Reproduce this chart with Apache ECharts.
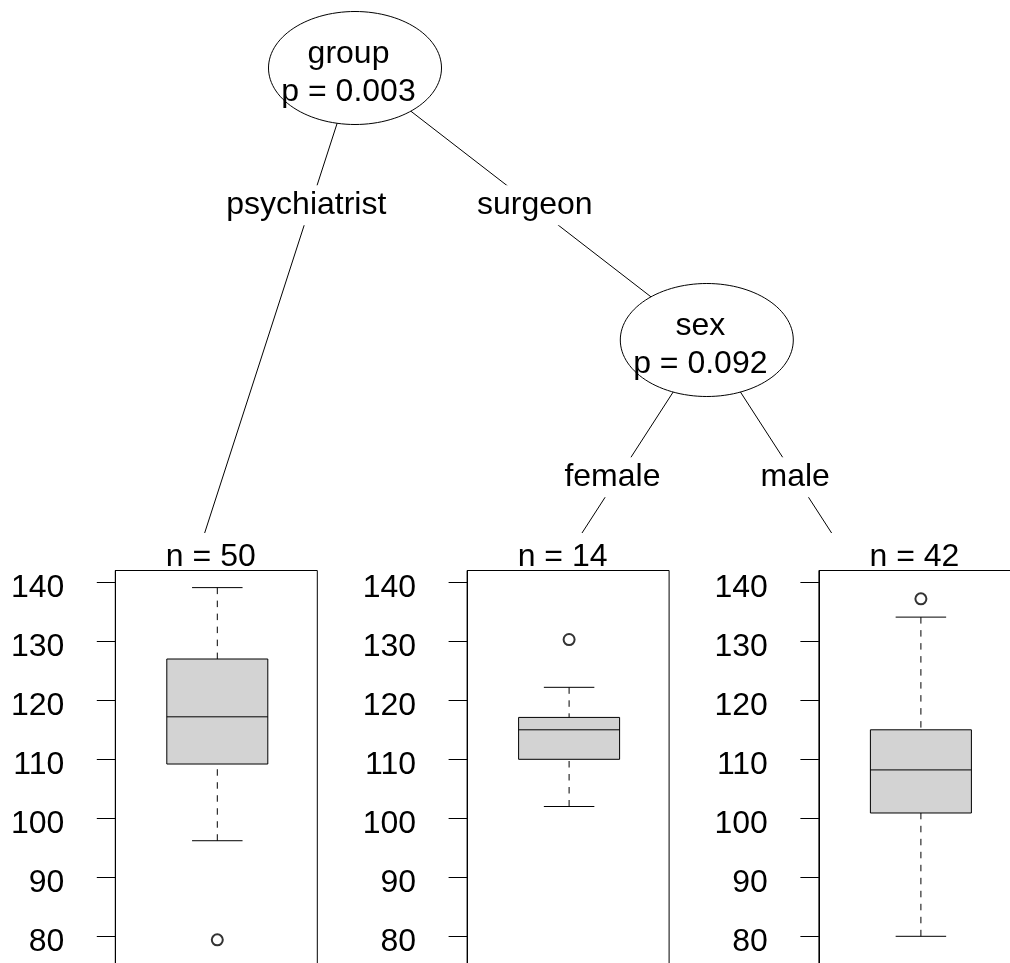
<!DOCTYPE html>
<html>
<head>
<meta charset="utf-8">
<script src="https://cdn.jsdelivr.net/npm/echarts@6/dist/echarts.min.js"></script>
<style>
  html, body { margin: 0; padding: 0; background: #fff; }
  #chart { width: 1010px; height: 963px; }
</style>
</head>
<body>
<div id="chart"></div>
<script>
// ---------------- data ----------------
const splitVariables = ['group', 'sex'];
const splitPValues = ['0.003', '0.092'];
const edgeLabels = [['psychiatrist', 'surgeon'], ['female', 'male']];
// tree structure: kids of each inner node (inner index or terminal index)
const treeKids = [
  [{ terminal: 0 }, { inner: 1 }],
  [{ terminal: 1 }, { terminal: 2 }]
];
const terminalSizes = [50, 14, 42];
const whiskerLow = [96.2, 102.0, 80.0];
const quartile1 = [109.2, 110.0, 100.9];
const medians = [117.2, 115.0, 108.2];
const quartile3 = [127.0, 117.1, 115.0];
const whiskerHigh = [139.1, 122.2, 134.1];
const outliers = [[79.4], [130.3], [137.2]];
const yTicks = [80, 90, 100, 110, 120, 130, 140];

// ---------------- layout (tree) ----------------
const FONT = "'Liberation Sans', Arial, Helvetica, sans-serif";
const layoutLeft = 3.2, unitPx = 351.8, layoutTop = 68, levelPx = 272;

function countTerm(node) {
  if (node.terminal !== undefined) return 1;
  return treeKids[node.inner].reduce((s, k) => s + countTerm(k), 0);
}
function depthOf(node) {
  if (node.terminal !== undefined) return 0;
  return 1 + Math.max(...treeKids[node.inner].map(depthOf));
}
const root = { inner: 0 };
const nTerm = countTerm(root);
const maxDepth = depthOf(root);
const innerPos = [], termPos = [], edges = [];
function place(node, xl, depth) {
  if (node.terminal !== undefined) {
    termPos[node.terminal] = [xl + 0.5, maxDepth];
    return termPos[node.terminal];
  }
  const kids = treeKids[node.inner];
  const pos = [xl + countTerm(kids[0]), depth];
  innerPos[node.inner] = pos;
  let cur = xl;
  kids.forEach((k, j) => {
    const cp = place(k, cur, depth + 1);
    edges.push([pos[0], pos[1], cp[0], cp[1], k.terminal !== undefined ? 1 : 0, node.inner, j]);
    cur += countTerm(k);
  });
  return pos;
}
place(root, 0, 0);

// ---------------- panels ----------------
const panelTop = 570.5, pxPerUnit = 5.9, yMax = 142.0, yMin = 73.5;
const panelWidth = 202;
const grids = [], xAxes = [], yAxes = [], series = [];

// layout grid (index 0)
grids.push({ left: layoutLeft, top: layoutTop, width: nTerm * unitPx, height: maxDepth * levelPx,
             show: false, outerBoundsMode: 'none', containLabel: false });
xAxes.push({ gridIndex: 0, type: 'value', min: 0, max: nTerm, show: false });
yAxes.push({ gridIndex: 0, type: 'value', min: 0, max: maxDepth, inverse: true, show: false });

terminalSizes.forEach((n, i) => {
  const gi = i + 1;
  grids.push({
    left: layoutLeft + i * unitPx + 112.1, top: panelTop, width: panelWidth,
    height: (yMax - yMin) * pxPerUnit, show: true, borderColor: '#000', borderWidth: 1,
    backgroundColor: 'transparent', outerBoundsMode: 'none', containLabel: false
  });
  xAxes.push({ gridIndex: gi, type: 'category', data: ['node'], show: false });
  yAxes.push({
    gridIndex: gi, type: 'value', min: yMin, max: yMax,
    splitLine: { show: false },
    axisLine: { show: true, lineStyle: { color: '#000', width: 1 } },
    axisTick: { show: true, length: 18.5, customValues: yTicks, lineStyle: { color: '#000', width: 1 } },
    axisLabel: { customValues: yTicks, margin: 51, fontSize: 32, color: '#000', fontFamily: FONT,
                 verticalAlign: 'top', lineHeight: 12 }
  });
  series.push({
    type: 'custom', xAxisIndex: gi, yAxisIndex: gi, clip: false,
    data: [[0, whiskerLow[i], quartile1[i], medians[i], quartile3[i], whiskerHigh[i]]],
    renderItem: function (params, api) {
      const x = api.value(0);
      const lo = api.coord([x, api.value(1)]);
      const q1 = api.coord([x, api.value(2)]);
      const md = api.coord([x, api.value(3)]);
      const q3 = api.coord([x, api.value(4)]);
      const hi = api.coord([x, api.value(5)]);
      const band = api.size([1, 0])[0];
      const bw = band * 0.5, cw = band * 0.25, cx = q1[0] + 1;
      const dash = { stroke: '#000', lineWidth: 1, lineDash: [6.5, 6.5] };
      const solid = { stroke: '#000', lineWidth: 1 };
      return {
        type: 'group', children: [
          { type: 'line', shape: { x1: cx, y1: hi[1], x2: cx, y2: q3[1] }, style: dash },
          { type: 'line', shape: { x1: cx, y1: lo[1], x2: cx, y2: q1[1] }, style: dash },
          { type: 'line', shape: { x1: cx - cw / 2, y1: hi[1], x2: cx + cw / 2, y2: hi[1] }, style: solid },
          { type: 'line', shape: { x1: cx - cw / 2, y1: lo[1], x2: cx + cw / 2, y2: lo[1] }, style: solid },
          { type: 'rect', shape: { x: cx - bw / 2, y: q3[1], width: bw, height: q1[1] - q3[1] },
            style: { fill: '#D3D3D3', stroke: '#000', lineWidth: 1 } },
          { type: 'line', shape: { x1: cx - bw / 2, y1: md[1], x2: cx + bw / 2, y2: md[1] }, style: solid }
        ]
      };
    }
  });
  series.push({
    type: 'scatter', xAxisIndex: gi, yAxisIndex: gi,
    data: outliers[i].map(v => [0, v]),
    symbol: 'emptyCircle', symbolSize: 11, symbolOffset: [1, 0],
    itemStyle: { color: '#000', borderColor: '#000', borderWidth: 1 },
    emphasis: { disabled: true }, silent: true
  });
});

// edges
series.push({
  type: 'custom', xAxisIndex: 0, yAxisIndex: 0, clip: false, z: 3, silent: true,
  data: edges,
  renderItem: function (params, api) {
    const p0 = api.coord([api.value(0), api.value(1)]);
    const p1 = api.coord([api.value(2), api.value(3)]);
    const isTerm = api.value(4) === 1;
    const lab = edgeLabels[api.value(5)][api.value(6)];
    let end = p1;
    if (isTerm) {
      const yTop = p1[1] - 79;
      const t = (yTop - p0[1]) / (p1[1] - p0[1]);
      end = [p0[0] + t * (p1[0] - p0[0]), yTop];
    }
    const ly = p0[1] + 141.3;
    const lt = (ly - p0[1]) / (p1[1] - p0[1]);
    const lx = p0[0] + lt * (p1[0] - p0[0]) - 3;
    return {
      type: 'group', children: [
        { type: 'line', shape: { x1: p0[0], y1: p0[1], x2: end[0], y2: end[1] }, style: { stroke: '#000', lineWidth: 1 } },
        { type: 'text', x: lx, y: ly - 4, z2: 5,
          style: { text: lab, fill: '#000', font: '32px ' + FONT, align: 'center', verticalAlign: 'middle',
                   lineHeight: 32, backgroundColor: '#fff', padding: [8, 4, 0, 4] } }
      ]
    };
  }
});

// inner nodes
series.push({
  type: 'custom', xAxisIndex: 0, yAxisIndex: 0, clip: false, z: 4, silent: true,
  data: innerPos.map((p, k) => [p[0], p[1], k]),
  renderItem: function (params, api) {
    const c = api.coord([api.value(0), api.value(1)]);
    const k = api.value(2);
    const rx = 86.5, ry = 56.5, pts = [];
    for (let a = 0; a < 120; a++) {
      const t = a / 120 * Math.PI * 2;
      pts.push([c[0] + rx * Math.cos(t), c[1] + ry * Math.sin(t)]);
    }
    return {
      type: 'group', children: [
        { type: 'polygon', shape: { points: pts }, style: { fill: '#fff', stroke: '#000', lineWidth: 1 } },
        { type: 'text', x: c[0] - 6.5, y: c[1] + 5.4, z2: 5,
          style: { text: splitVariables[k] + '\np = ' + splitPValues[k], fill: '#000', font: '32px ' + FONT,
                   align: 'center', verticalAlign: 'middle', lineHeight: 38.4 } }
      ]
    };
  }
});

// terminal labels
series.push({
  type: 'custom', xAxisIndex: 0, yAxisIndex: 0, clip: false, z: 4, silent: true,
  data: termPos.map((p, k) => [p[0], p[1], k]),
  renderItem: function (params, api) {
    const c = api.coord([api.value(0), api.value(1)]);
    const k = api.value(2);
    return {
      type: 'text', x: c[0] + 31.7, y: c[1] - 55.2,
      style: { text: 'n = ' + terminalSizes[k], fill: '#000', font: '32px ' + FONT, align: 'center', verticalAlign: 'middle' }
    };
  }
});

const chart = echarts.init(document.getElementById('chart'), null, { renderer: 'canvas' });
chart.setOption({
  animation: false,
  backgroundColor: '#fff',
  grid: grids, xAxis: xAxes, yAxis: yAxes, series: series
});
</script>
</body>
</html>
